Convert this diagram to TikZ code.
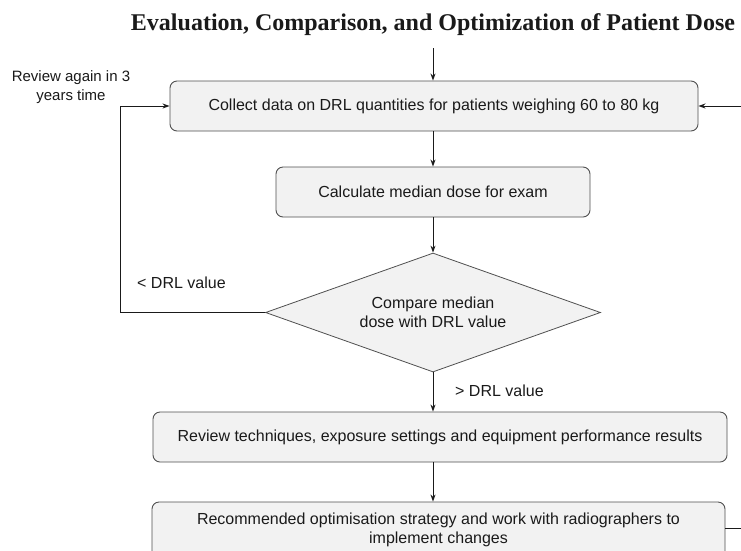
\documentclass[tikz,border=0pt]{standalone}
\usepackage{fontspec}
\setmainfont{Liberation Sans}
\newfontfamily\titlefont{Liberation Serif}
\usetikzlibrary{shapes.geometric,arrows.meta}
\definecolor{boxfill}{HTML}{F2F2F2}
\definecolor{boxline}{HTML}{505050}
\definecolor{txt}{HTML}{1A1A1A}
\begin{document}
\begin{tikzpicture}[x=1pt,y=-1pt,
  procbox/.style={draw=boxline,fill=boxfill,rounded corners=7pt,line width=0.9pt,
    inner sep=0pt,text=txt,font=\fontsize{16}{19}\selectfont,align=center},
  decbox/.style={diamond,aspect=2.8,draw=boxline,fill=boxfill,line width=0.8pt,inner sep=0pt,
    text=txt,font=\fontsize{16}{19}\selectfont,align=center},
  arr/.style={draw=txt,line width=0.9pt,-{Stealth[length=7pt,width=5pt]}},
  conn/.style={draw=txt,line width=0.9pt},
  lbl/.style={text=txt,font=\fontsize{16}{19}\selectfont,inner sep=0pt}]
\useasboundingbox (0,0) rectangle (741,550);
\fill[white] (0,0) rectangle (741,550);

\node[font=\titlefont\bfseries\fontsize{24}{28}\selectfont,text=txt] (title) at (433,25)
  {Evaluation, Comparison, and Optimization of Patient Dose};

\node[procbox,minimum width=528pt,minimum height=50pt] (collect) at (434,106)
  {Collect data on DRL quantities for patients weighing 60 to 80 kg};
\node[procbox,minimum width=314pt,minimum height=50pt] (median) at (433,192)
  {Calculate median dose for exam};
\node[decbox,minimum width=335pt,minimum height=119pt] (cmp) at (433,312.5)
  {Compare median\\dose with DRL value};
\node[procbox,minimum width=574pt,minimum height=50pt] (review) at (440,437)
  {Review techniques, exposure settings and equipment performance results};
\node[procbox,minimum width=573pt,minimum height=56pt] (recom) at (438.5,530)
  {Recommended optimisation strategy and work with radiographers to\\implement changes};

\coordinate (topin) at (433,48);
\coordinate (rightin) at (745,106);
\coordinate (rightout) at (745,528);
\coordinate (fb) at (120,312.5);

\draw[arr] (topin) -- (topin |- collect.north);
\draw[arr] (collect.south -| median.north) -- (median.north);
\draw[arr] (median.south) -- (cmp.north);
\draw[arr] (cmp.south) -- (cmp.south |- review.north);
\draw[arr] (review.south -| cmp.south) -- (cmp.south |- recom.north);
\draw[arr] (rightin) -- (collect.east);
\draw[conn] (recom.east |- rightout) -- (rightout);
\draw[arr] (cmp.west) -- (fb) |- (collect.west);

\node[lbl,anchor=west] (lt) at (137,283) {< DRL value};
\node[lbl,anchor=west] (gt) at (455,391) {> DRL value};
\node[lbl,align=center,font=\fontsize{15}{19}\selectfont] (again) at (71,87)
  {Review again in 3\\years time};
\end{tikzpicture}
\end{document}
